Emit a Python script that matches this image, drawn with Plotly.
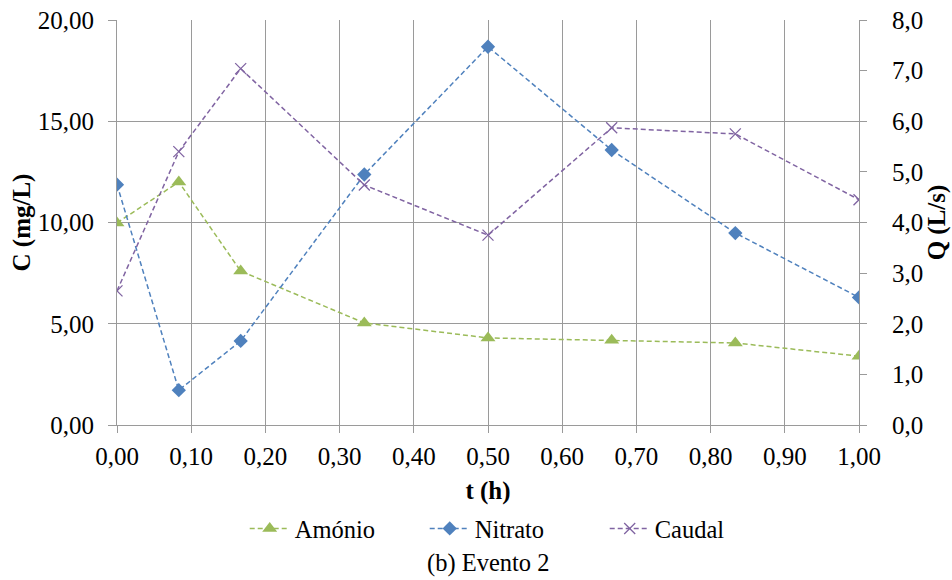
import plotly.graph_objects as go

t = [0.0, 0.0833, 0.1667, 0.3333, 0.5, 0.6667, 0.8333, 1.0]
amonio = [9.98, 12.0, 7.6, 5.04, 4.3, 4.18, 4.05, 3.4]
nitrato = [11.87, 1.72, 4.15, 12.37, 18.68, 13.58, 9.48, 6.3]
caudal = [2.65, 5.4, 7.04, 4.74, 3.75, 5.87, 5.75, 4.45]

FONT = "Liberation Serif, Times New Roman, Times, serif"
GRID = "#9a9a9a"
FS = 25
fig = go.Figure()
fig.add_trace(go.Scatter(x=t, y=amonio, name="Amónio", mode="lines+markers",
                         line=dict(color="#9BBB59", width=1.5, dash="5px,3px"),
                         marker=dict(symbol="triangle-up", size=13, color="#9BBB59")))
fig.add_trace(go.Scatter(x=t, y=nitrato, name="Nitrato", mode="lines+markers",
                         line=dict(color="#4F81BD", width=1.5, dash="5px,3px"),
                         marker=dict(symbol="diamond", size=11, color="#4F81BD")))
fig.add_trace(go.Scatter(x=t, y=caudal, name="Caudal", mode="lines+markers", yaxis="y2",
                         line=dict(color="#8064A2", width=1.5, dash="5px,3px"),
                         marker=dict(symbol="x-thin-open", size=11,
                                     line=dict(color="#8064A2", width=1.3), color="#8064A2")))

fig.update_layout(
    width=952, height=580,
    margin=dict(l=117, r=93, t=20, b=155),
    paper_bgcolor="white", plot_bgcolor="white",
    separators=", ",
    font=dict(family=FONT, size=FS, color="black"),
    showlegend=True,
    legend=dict(orientation="h", x=0.536, xanchor="center", y=-0.2, yanchor="top",
                font=dict(family=FONT, size=24.5), entrywidth=125, entrywidthmode="pixels",
                itemwidth=40, bgcolor="rgba(0,0,0,0)"),
    xaxis=dict(range=[0, 1], dtick=0.1, tickformat=".2f", showgrid=True, gridcolor=GRID,
               gridwidth=1, showline=True, linecolor=GRID, ticks="outside", ticklen=7,
               tickcolor=GRID, zeroline=False, automargin=False, ticklabelstandoff=2,
               title=dict(text="<b>t (h)</b>", standoff=12, font=dict(size=FS))),
    yaxis=dict(range=[0, 20], dtick=5, tickformat=".2f", showgrid=True, gridcolor=GRID,
               showline=True, linecolor=GRID, ticks="outside", ticklen=8, tickcolor=GRID,
               zeroline=False, automargin=False, ticklabelstandoff=9,
               title=dict(text="<b>C (mg/L)</b>", standoff=0, font=dict(size=FS))),
    yaxis2=dict(range=[0, 8], dtick=1, tickformat=".1f", overlaying="y", side="right",
                showgrid=False, showline=True, linecolor=GRID, ticks="outside", ticklen=7,
                tickcolor=GRID, zeroline=False, automargin=False, ticklabelstandoff=20,
                title=dict(text="<b>Q (L/s)</b>", standoff=0, font=dict(size=FS))),
    annotations=[dict(text="(b) Evento 2", x=0.5, xref="paper", y=-0.34, yref="paper",
                      showarrow=False, font=dict(family=FONT, size=24.5), yanchor="middle")],
)
fig.write_html("out.html", post_script="document.body.style.margin='0';",
               config={"displayModeBar": False})
